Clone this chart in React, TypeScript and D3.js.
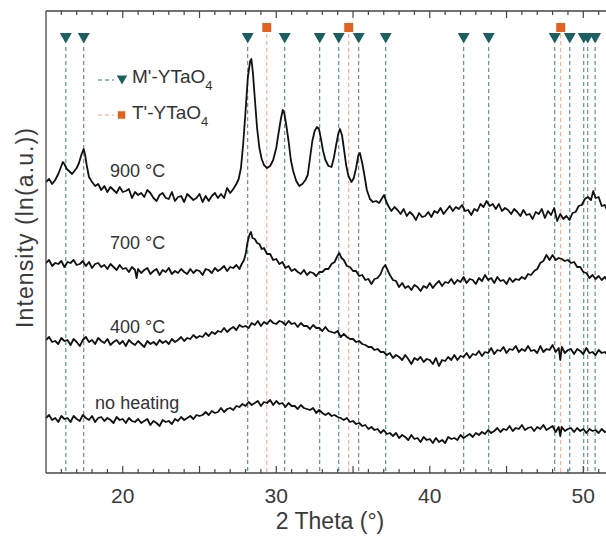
import React from 'react';
import * as d3 from 'd3';

// Reference reflections (2θ, degrees)
const mPrimePeaks = [16.29, 17.46, 28.14, 30.55, 32.83, 34.07, 35.37, 37.13, 42.21, 43.84, 48.14, 49.12, 50.03, 50.29, 50.77];
const tPrimePeaks = [29.38, 34.72, 48.53];

const xTickLabels = [20, 30, 40, 50];
const seriesNames = ['900 °C', '700 °C', '400 °C', 'no heating'];

// Stacked patterns: [2θ, offset log-intensity]
const heat900: [number, number][] = [
  [15.0,291],[15.2,294],[15.4,289],[15.6,293],[15.8,299],[15.95,305],[16.1,311],[16.2,309],[16.35,304],[16.5,302],[16.7,299],[16.85,302],[17.0,305],[17.15,310],[17.3,318],[17.45,324],[17.55,318],[17.65,308],[17.8,296],
  [18.0,291],[18.2,287],[18.4,289],[18.6,283],[18.8,287],[19.0,281],[19.2,286],[19.4,283],[19.6,280],[19.8,286],[20.0,281],[20.2,282],[20.4,284],[20.6,275],[20.8,281],[21.0,278],[21.2,280],[21.4,276],[21.6,283],[21.8,280],[22.0,275],[22.2,272],[22.4,278],[22.6,280],[22.8,275],[23.0,274],[23.2,281],[23.4,272],[23.6,276],[23.8,277],[24.0,271],[24.2,279],[24.4,276],[24.6,273],[24.8,275],[25.0,279],[25.2,271],[25.4,277],[25.6,272],[25.8,277],[26.0,280],[26.2,275],[26.4,279],[26.6,275],[26.8,285],[27.0,280],[27.2,284],[27.4,289],
  [27.55,294],[27.7,305],[27.85,330],[28.0,362],[28.15,396],[28.3,412],[28.38,414],[28.48,400],[28.6,375],[28.75,345],[28.9,325],[29.05,314],[29.2,308],[29.4,305],[29.6,307],[29.8,313],[30.0,325],[30.15,340],[30.3,354],[30.42,363],[30.52,360],[30.65,348],[30.8,332],[30.95,313],[31.1,302],[31.3,292],[31.5,287],[31.7,289],[31.9,293],[32.05,298],[32.2,315],[32.35,332],[32.5,342],[32.65,346],[32.78,344],[32.9,335],[33.05,322],[33.2,313],[33.4,307],[33.6,306],[33.75,315],[33.9,328],[34.05,340],[34.15,344],[34.28,338],[34.4,325],[34.55,308],[34.7,297],[34.9,291],[35.05,295],[35.2,305],[35.35,318],[35.45,320],[35.6,310],[35.75,297],[35.9,283],[36.1,274],[36.3,271],[36.5,272],[36.7,270],[36.9,275],[37.02,278],[37.15,272],
  [37.3,267],[37.5,262],[37.7,266],[37.9,263],[38.1,259],[38.3,264],[38.5,257],[38.7,261],[38.9,258],[39.1,253],[39.3,260],[39.5,256],[39.7,257],[39.9,261],[40.1,256],[40.3,262],[40.5,260],[40.7,265],[40.9,259],[41.1,263],[41.3,267],[41.5,262],[41.7,266],[41.9,264],[42.1,268],[42.3,262],[42.5,263],[42.7,258],[42.9,264],[43.1,262],[43.3,269],[43.5,266],[43.7,272],[43.9,267],[44.1,269],[44.3,264],[44.5,269],[44.7,262],[44.9,265],[45.1,263],[45.3,259],[45.5,264],[45.7,261],[45.9,257],[46.1,263],[46.3,258],[46.5,259],[46.7,254],[46.9,261],[47.1,259],[47.3,264],[47.5,255],[47.7,262],[47.9,258],[48.1,265],[48.3,252],[48.5,259],[48.7,254],[48.9,257],[49.1,253],[49.3,260],[49.5,261],[49.7,267],[49.9,268],[50.1,274],[50.3,276],[50.5,273],[50.65,282],[50.8,275],[51.0,276],[51.2,267],[51.4,268],[51.6,261],
];

const heat700: [number, number][] = [
  [15.0,210],[15.2,213],[15.4,207],[15.6,210],[15.8,209],[16.0,212],[16.2,206],[16.4,211],[16.6,210],[16.8,213],[17.0,208],[17.2,209],[17.4,212],[17.6,207],[17.8,211],[18.0,205],[18.2,209],[18.4,210],[18.6,206],[18.8,208],[19.0,204],[19.2,209],[19.4,206],[19.6,203],[19.8,208],[20.0,204],[20.2,205],[20.4,201],[20.6,206],[20.8,203],[20.9,195],[21.0,204],[21.2,200],[21.4,203],[21.6,205],[21.8,199],[22.0,202],[22.2,204],[22.4,198],[22.6,203],[22.8,201],[23.0,205],[23.2,199],[23.4,202],[23.6,200],[23.8,204],[24.0,201],[24.2,199],[24.4,204],[24.6,200],[24.8,203],[25.0,202],[25.2,198],[25.4,204],[25.6,203],[25.8,200],[26.0,205],[26.2,202],[26.4,204],[26.6,207],[26.8,202],[27.0,206],[27.2,205],[27.4,208],[27.6,204],[27.75,209],
  [27.9,213],[28.02,220],[28.12,230],[28.25,238],[28.35,241],[28.45,235],[28.6,234],[28.75,230],[28.9,229],[29.05,224],[29.2,225],[29.4,219],[29.6,219],[29.8,213],[30.0,214],[30.2,209],[30.4,211],[30.6,205],[30.8,207],[31.0,202],[31.2,204],[31.4,201],[31.6,199],[31.8,203],[32.0,198],[32.2,201],[32.4,200],[32.6,197],[32.8,201],[33.0,201],[33.2,204],[33.4,204],[33.6,209],[33.8,211],[33.95,216],[34.1,220],[34.25,215],[34.4,213],[34.6,207],[34.8,206],[35.0,202],[35.2,202],[35.4,197],[35.6,198],[35.8,193],[36.0,194],[36.2,189],[36.4,194],[36.6,195],[36.8,199],[36.95,205],[37.1,208],[37.25,203],
  [37.4,198],[37.6,193],[37.8,192],[38.0,186],[38.2,190],[38.4,185],[38.6,187],[38.8,183],[39.0,188],[39.2,186],[39.4,182],[39.6,187],[39.8,185],[40.0,190],[40.2,185],[40.4,189],[40.6,192],[40.8,187],[41.0,191],[41.2,190],[41.4,194],[41.6,189],[41.8,193],[42.0,191],[42.2,196],[42.4,190],[42.6,194],[42.8,193],[43.0,189],[43.2,195],[43.4,192],[43.6,198],[43.8,193],[44.0,195],[44.2,190],[44.4,196],[44.6,192],[44.8,193],[45.0,189],[45.2,195],[45.4,191],[45.6,194],[45.8,193],[46.0,196],[46.2,194],[46.4,199],[46.6,198],[46.8,202],[47.0,204],[47.2,210],[47.4,212],[47.6,218],[47.8,213],[48.0,218],[48.2,213],[48.4,215],[48.6,214],[48.8,212],[49.0,213],[49.2,210],[49.4,211],[49.6,206],[49.8,206],[50.0,201],[50.2,200],[50.4,195],[50.6,198],[50.8,194],[51.0,197],[51.2,193],[51.4,196],[51.6,192],
];

const heat400: [number, number][] = [
  [15.0,133],[15.2,136],[15.4,131],[15.6,132],[15.8,129],[16.0,135],[16.2,132],[16.4,133],[16.6,128],[16.8,134],[17.0,131],[17.2,127],[17.4,133],[17.6,136],[17.8,131],[18.0,133],[18.2,129],[18.4,135],[18.6,132],[18.8,130],[19.0,134],[19.2,128],[19.4,131],[19.6,133],[19.8,129],[20.0,132],[20.2,127],[20.4,133],[20.6,130],[20.8,128],[21.0,132],[21.2,129],[21.4,126],[21.6,132],[21.8,129],[22.0,131],[22.2,128],[22.4,133],[22.6,130],[22.8,132],[23.0,129],[23.2,134],[23.4,131],[23.6,133],[23.8,136],[24.0,132],[24.2,135],[24.4,134],[24.6,138],[24.8,135],[25.0,137],[25.2,136],[25.4,140],[25.6,137],[25.8,141],[26.0,139],[26.2,142],[26.4,141],[26.6,145],[26.8,141],[27.0,144],[27.2,146],[27.4,143],[27.6,148],[27.8,146],[28.0,147],[28.2,145],[28.4,150],[28.6,148],[28.8,152],[29.0,147],[29.2,151],[29.4,149],[29.6,153],[29.8,150],[30.0,149],[30.2,152],[30.4,151],[30.6,148],[30.8,152],[31.0,149],[31.2,150],[31.4,146],[31.6,150],[31.8,147],[32.0,147],[32.2,144],[32.4,148],[32.6,145],[32.8,145],[33.0,142],[33.2,146],[33.4,142],[33.6,141],[33.8,140],[34.0,142],[34.2,136],[34.4,139],[34.6,136],[34.8,134],[35.0,134],[35.2,131],[35.4,132],[35.6,129],[35.8,128],[36.0,126],[36.2,126],[36.4,123],[36.6,124],[36.8,121],[37.0,121],[37.2,118],[37.4,120],[37.6,115],[37.8,118],[38.0,116],[38.2,113],[38.4,118],[38.6,114],[38.8,109],[39.0,115],[39.2,113],[39.4,116],[39.6,111],[39.8,114],[40.0,113],[40.2,109],[40.4,115],[40.6,107],[40.8,113],[41.0,112],[41.2,116],[41.4,113],[41.6,118],[41.8,113],[42.0,117],[42.2,116],[42.4,120],[42.6,115],[42.8,119],[43.0,118],[43.2,122],[43.4,117],[43.6,121],[43.8,120],[44.0,125],[44.2,119],[44.4,123],[44.6,122],[44.8,126],[45.0,120],[45.2,124],[45.4,123],[45.6,127],[45.8,121],[46.0,124],[46.2,122],[46.4,127],[46.6,122],[46.8,123],[47.0,120],[47.2,127],[47.4,121],[47.6,124],[47.8,123],[48.0,128],[48.2,121],[48.4,125],[48.5,113],[48.6,126],[48.8,120],[49.0,123],[49.2,124],[49.4,119],[49.6,124],[49.8,122],[50.0,119],[50.2,125],[50.4,120],[50.6,121],[50.8,118],[51.0,123],[51.2,120],[51.4,121],[51.6,118],
];

const noHeating: [number, number][] = [
  [15.0,55],[15.2,58],[15.4,53],[15.6,55],[15.8,51],[16.0,57],[16.2,54],[16.4,55],[16.6,51],[16.8,57],[17.0,54],[17.2,52],[17.4,58],[17.6,55],[17.8,53],[18.0,57],[18.2,51],[18.4,55],[18.6,56],[18.8,52],[19.0,55],[19.2,53],[19.4,50],[19.6,56],[19.8,53],[20.0,54],[20.2,50],[20.4,55],[20.6,52],[20.8,51],[21.0,54],[21.2,50],[21.4,52],[21.6,54],[21.8,48],[22.0,52],[22.2,50],[22.4,47],[22.6,53],[22.8,51],[23.0,52],[23.2,49],[23.4,54],[23.6,52],[23.8,56],[24.0,53],[24.2,55],[24.4,57],[24.6,54],[24.8,58],[25.0,57],[25.2,58],[25.4,61],[25.6,58],[25.8,62],[26.0,60],[26.2,61],[26.4,65],[26.6,61],[26.8,64],[27.0,65],[27.2,63],[27.4,67],[27.6,66],[27.8,69],[28.0,67],[28.2,71],[28.4,68],[28.6,70],[28.8,72],[29.0,67],[29.2,71],[29.4,70],[29.6,73],[29.8,68],[30.0,72],[30.2,69],[30.4,70],[30.6,66],[30.8,70],[31.0,67],[31.2,67],[31.4,64],[31.6,68],[31.8,65],[32.0,64],[32.2,63],[32.4,65],[32.6,60],[32.8,63],[33.0,60],[33.2,58],[33.4,60],[33.6,57],[33.8,58],[34.0,56],[34.2,55],[34.4,53],[34.6,55],[34.8,51],[35.0,52],[35.2,49],[35.4,50],[35.6,47],[35.8,48],[36.0,44],[36.2,46],[36.4,43],[36.6,44],[36.8,40],[37.0,43],[37.2,39],[37.4,40],[37.6,37],[37.8,40],[38.0,35],[38.2,38],[38.4,36],[38.6,33],[38.8,38],[39.0,34],[39.2,35],[39.4,31],[39.6,36],[39.8,33],[40.0,34],[40.2,30],[40.4,35],[40.6,31],[40.8,33],[41.0,30],[41.2,36],[41.4,34],[41.6,35],[41.8,33],[42.0,38],[42.2,35],[42.4,37],[42.6,39],[42.8,36],[43.0,40],[43.2,38],[43.4,41],[43.6,39],[43.8,43],[44.0,40],[44.2,42],[44.4,45],[44.6,41],[44.8,44],[45.0,43],[45.2,47],[45.4,42],[45.6,45],[45.8,44],[46.0,48],[46.2,43],[46.4,45],[46.6,46],[46.8,42],[47.0,46],[47.2,44],[47.4,48],[47.6,43],[47.8,45],[48.0,47],[48.2,41],[48.4,46],[48.5,37],[48.6,46],[48.8,42],[49.0,44],[49.2,45],[49.4,41],[49.6,45],[49.8,42],[50.0,44],[50.2,40],[50.4,44],[50.6,42],[50.8,43],[51.0,40],[51.2,44],[51.4,41],[51.6,42],
];

const W = 606;
const H = 538;
const FONT = '"Liberation Sans", Arial, Helvetica, sans-serif';
const TEAL = '#1b5f63';
const TEAL_LINE = '#44797d';
const ORANGE = '#e2621f';
const ORANGE_LINE = '#f2a382';

export default function App() {
  const x = d3.scaleLinear().domain([15, 52]).range([46, 614]);
  const y = d3.scaleLinear().domain([0, 462]).range([473, 11]);
  const line = d3.line<[number, number]>().x(d => x(d[0])).y(d => y(d[1]));

  const series = [heat900, heat700, heat400, noHeating];
  // label anchor: [2θ, level]
  const labelAt: [number, number][] = [[19.17, 296], [19.17, 224], [19.17, 140], [18.2, 64]];

  const plotTop = y(462);
  const plotBottom = y(0);
  const ticks = d3.range(16, 52);

  const tri = d3.symbol().type(d3.symbolTriangle).size(62)()!;
  const sq = d3.symbol().type(d3.symbolSquare).size(81)()!;
  const triSmall = d3.symbol().type(d3.symbolTriangle).size(48)()!;
  const sqSmall = d3.symbol().type(d3.symbolSquare).size(56)()!;

  return (
    <div style={{ position: 'fixed', left: 0, top: 0, width: W, height: H, background: '#fff' }}>
      <svg width={W} height={H} style={{ display: 'block' }} fontFamily={FONT}>
        <rect x={0} y={0} width={W} height={H} fill="#fff" />

        {/* reference lines */}
        {mPrimePeaks.map((p, i) => (
          <line key={`ml${i}`} x1={x(p)} x2={x(p)} y1={47} y2={plotBottom}
            stroke={TEAL_LINE} strokeWidth={1} strokeDasharray="4 3" />
        ))}
        {tPrimePeaks.map((p, i) => (
          <line key={`tl${i}`} x1={x(p)} x2={x(p)} y1={34} y2={plotBottom}
            stroke={ORANGE_LINE} strokeWidth={1} strokeDasharray="4 3" />
        ))}

        {/* patterns */}
        {series.map((s, i) => (
          <path key={`s${i}`} d={line(s)!} fill="none" stroke="#111" strokeWidth={1.8} strokeLinejoin="round" />
        ))}

        {/* markers */}
        {mPrimePeaks.map((p, i) => (
          <path key={`mm${i}`} d={tri} transform={`translate(${x(p)},36.5) rotate(180)`} fill={TEAL} />
        ))}
        {tPrimePeaks.map((p, i) => (
          <path key={`tm${i}`} d={sq} transform={`translate(${x(p)},27.5)`} fill={ORANGE} />
        ))}

        {/* series labels */}
        {seriesNames.map((n, i) => (
          <text key={`lb${i}`} x={x(labelAt[i][0])} y={y(labelAt[i][1])} fontSize={18} fill="#333">{n}</text>
        ))}

        {/* legend */}
        <line x1={98} x2={114} y1={80} y2={80} stroke={TEAL_LINE} strokeWidth={1} strokeDasharray="4 3" />
        <path d={triSmall} transform="translate(122,78.5) rotate(180)" fill={TEAL} />
        <text x={132} y={83} fontSize={19} fill="#333">M'-YTaO<tspan dy={7} fontSize={13}>4</tspan></text>
        <line x1={98} x2={114} y1={115} y2={115} stroke={ORANGE_LINE} strokeWidth={1} strokeDasharray="4 3" />
        <path d={sqSmall} transform="translate(121.5,115)" fill={ORANGE} />
        <text x={132} y={119} fontSize={19} fill="#333">T'-YTaO<tspan dy={7} fontSize={13}>4</tspan></text>

        {/* frame */}
        <line x1={46} x2={W} y1={plotTop} y2={plotTop} stroke="#444" strokeWidth={1.3} />
        <line x1={46} x2={W} y1={plotBottom} y2={plotBottom} stroke="#444" strokeWidth={1.3} />
        <line x1={46} x2={46} y1={plotTop} y2={plotBottom} stroke="#444" strokeWidth={1.3} />
        {ticks.map(t => {
          const major = t % 5 === 0;
          const len = major ? 7 : 4;
          return (
            <g key={`tk${t}`}>
              <line x1={x(t)} x2={x(t)} y1={plotBottom} y2={plotBottom - len} stroke="#444" strokeWidth={1.2} />
              <line x1={x(t)} x2={x(t)} y1={plotTop} y2={plotTop + len} stroke="#444" strokeWidth={1.2} />
            </g>
          );
        })}
        {xTickLabels.map(t => (
          <text key={`xl${t}`} x={x(t)} y={503} fontSize={21} textAnchor="middle" fill="#3a3a3a">{t}</text>
        ))}

        {/* axis titles */}
        <text x={330} y={529} fontSize={23} textAnchor="middle" fill="#3a3a3a">2 Theta (°)</text>
        <text transform="translate(33,228) rotate(-90)" fontSize={23} textAnchor="middle" fill="#3a3a3a"
          textLength={200} lengthAdjust="spacing">Intensity (ln(a.u.))</text>
      </svg>
    </div>
  );
}
